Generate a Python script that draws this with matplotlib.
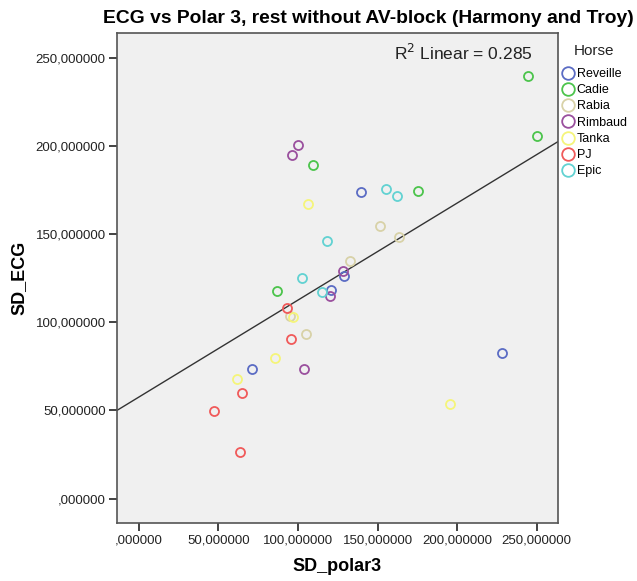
import numpy as np
import matplotlib
matplotlib.use('Agg')
import matplotlib.pyplot as plt
from matplotlib.ticker import FuncFormatter

plt.rcParams['font.family'] = ['Liberation Sans', 'DejaVu Sans']

horses = ['Reveille', 'Cadie', 'Rabia', 'Rimbaud', 'Tanka', 'PJ', 'Epic']
colors = ['#5b6cc4', '#4cc44c', '#d8d2a8', '#9a509e', '#f5f57a', '#f05a5a', '#62d2d2']

# SD_polar3 / SD_ECG per horse
sd_polar = {
    'Reveille': [139.9, 129.0, 120.6, 70.8, 228.4],
    'Cadie':    [244.7, 250.0, 175.2, 109.7, 86.9],
    'Rabia':    [151.6, 163.6, 132.6, 105.3, 95.0],
    'Rimbaud':  [100.3, 96.3, 128.4, 120.0, 103.8],
    'Tanka':    [106.2, 96.9, 85.8, 61.5, 195.7],
    'PJ':       [93.1, 95.9, 64.8, 47.2, 63.6],
    'Epic':     [118.1, 102.8, 115.2, 155.2, 162.1],
}
sd_ecg = {
    'Reveille': [174.0, 126.4, 118.3, 73.5, 82.8],
    'Cadie':    [239.6, 205.4, 174.4, 189.2, 117.9],
    'Rabia':    [154.6, 148.2, 134.8, 93.2, 103.7],
    'Rimbaud':  [200.7, 195.0, 129.1, 114.9, 73.5],
    'Tanka':    [167.1, 103.0, 79.9, 67.7, 53.7],
    'PJ':       [107.9, 90.4, 59.8, 49.7, 26.3],
    'Epic':     [146.1, 124.9, 117.3, 175.7, 171.4],
}
ticks = [0, 50, 100, 150, 200, 250]

fig = plt.figure(figsize=(6.37, 5.81), dpi=100)
ax = fig.add_axes([0.1832, 0.0993, 0.6929, 0.8437])
ax.set_facecolor('#f0f0f0')

for h, c in zip(horses, colors):
    ax.plot(sd_polar[h], sd_ecg[h], 'o', ms=6.5, mfc='none', mec=c, mew=1.3, label=h, zorder=3)

# fit line (R2 linear)
xs = np.concatenate([sd_polar[h] for h in horses])
ys = np.concatenate([sd_ecg[h] for h in horses])
b, a = np.polyfit(xs, ys, 1)
xl = np.array([-14, 263.5])
ax.plot(xl, a + b * xl, color='#333333', lw=1.0, zorder=2)

ax.set_xlim(-14, 263.5)
ax.set_ylim(-14, 264)
ax.set_xticks(ticks)
ax.set_yticks(ticks)
def fmt_tick(v, p):
    s = ('%.6f' % v).replace('.', ',')
    return s.lstrip('0') if v == 0 else s
ax.xaxis.set_major_formatter(FuncFormatter(fmt_tick))
ax.yaxis.set_major_formatter(FuncFormatter(fmt_tick))
ax.tick_params(labelsize=9.5, colors='#222222', length=6, width=1.2, pad=2)
for s in ax.spines.values():
    s.set_color('#555555'); s.set_linewidth(1.2)

ax.text(0.943, 0.959, 'R$^2$ Linear = 0.285', transform=ax.transAxes, ha='right', va='center', fontsize=12.5, color='#222222')
fig.text(0.579, 0.969, 'ECG vs Polar 3, rest without AV-block (Harmony and Troy)', ha='center', va='center',
         fontsize=13.9, fontweight='bold')
ax.set_xlabel('SD_polar3', fontsize=13, fontweight='bold', labelpad=8)
ax.set_ylabel('SD_ECG', fontsize=13, fontweight='bold', labelpad=6)

fig.text(594 / 637, 1 - 51 / 581, 'Horse', ha='center', va='center', fontsize=11, color='#222222')
leg = ax.legend(loc='upper left', bbox_to_anchor=(1.0, 0.934), frameon=False,
                fontsize=9, handletextpad=0.1, borderaxespad=0.0, borderpad=0.2,
                labelspacing=0.34, handlelength=1.2, markerscale=1.4)

plt.savefig('out.png', dpi=100)
